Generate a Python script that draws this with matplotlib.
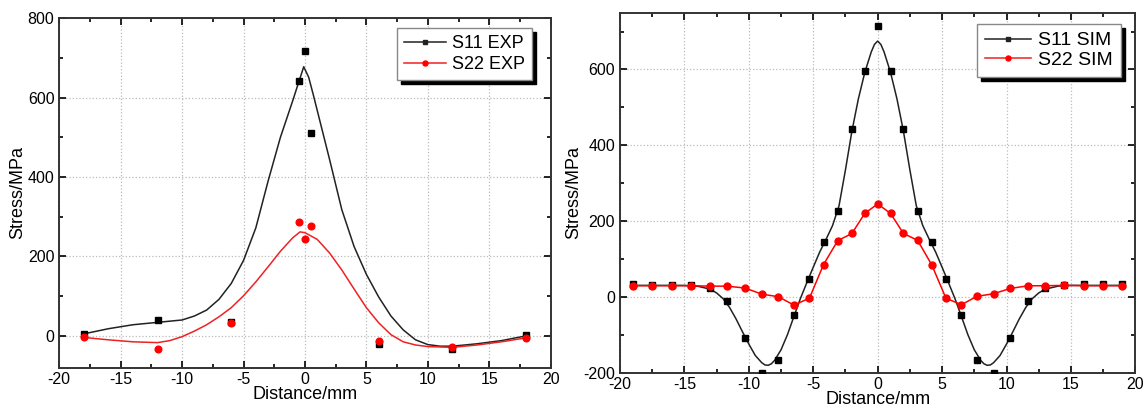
import numpy as np
import matplotlib
matplotlib.use('Agg')
import matplotlib.pyplot as plt
from matplotlib.lines import Line2D
from matplotlib.ticker import MultipleLocator

plt.rcParams['font.family'] = ['Liberation Sans', 'DejaVu Sans']
plt.rcParams['axes.unicode_minus'] = False
plt.rcParams['xtick.direction'] = 'in'
plt.rcParams['ytick.direction'] = 'in'

# ---- left panel: experiment points
exp_x = [-18, -12, -6, -0.5, 0, 0.5, 6, 12, 18]
s11_exp = [5, 40, 35, 642, 717, 511, -21, -32, 2]
s22_exp = [-4, -32, 32, 288, 244, 276, -13, -27, -6]

# fitted curves
fit11_x = [-18, -16, -14, -12, -10, -9, -8, -7, -6, -5, -4, -3, -2, -1, -0.5, -0.1,
           0.3, 0.7, 1, 2, 3, 4, 5, 6, 7, 8, 9, 10, 11, 12, 14, 16, 18]
fit11_y = [5, 18, 28, 34, 40, 50, 65, 92, 132, 190, 272, 390, 500, 592, 640, 678,
           652, 605, 568, 445, 318, 225, 155, 98, 50, 15, -10, -22, -26, -26, -20, -12, 0]
fit22_x = [-18, -16, -14, -12, -11, -10, -9, -8, -7, -6, -5, -4, -3, -2, -1, -0.4,
           0, 1, 2, 3, 4, 5, 6, 7, 8, 9, 10, 12, 14, 16, 18]
fit22_y = [-4, -10, -15, -17, -12, -2, 12, 28, 48, 71, 101, 136, 174, 213, 247, 262,
           260, 243, 209, 166, 118, 71, 33, 3, -15, -23, -27, -29, -23, -15, -5]

# ---- right panel: simulation
sim_x = [-19, -17.5, -16, -14.5, -13, -11.7, -10.3, -9, -7.7, -6.5, -5.3, -4.2, -3.1, -2, -1, 0,
         1, 2, 3.1, 4.2, 5.3, 6.5, 7.7, 9, 10.3, 11.7, 13, 14.5, 16, 17.5, 19]
s11_sim = [34, 32, 32, 30, 24, -11, -110, -200, -168, -48, 47, 145, 226, 443, 597, 715,
           597, 443, 226, 145, 47, -48, -167, -200, -110, -11, 24, 31, 33, 33, 33]
s22_sim = [29, 29, 29, 29, 28, 28, 23, 7, 0, -22, -4, 85, 148, 167, 220, 245,
           220, 167, 149, 84, -4, -21, 1, 8, 22, 29, 29, 30, 29, 29, 29]

simfit_x = [-19, -17, -15, -14, -13, -12.5, -12, -11.5, -11, -10.5, -10, -9.5, -9, -8.75,
            -8.5, -8.25, -8, -7.5, -7, -6.5, -6, -5.5, -5, -4.5, -4, -3.5, -3, -2.5, -2,
            -1.5, -1, -0.5, -0.25, 0, 0.25, 0.5, 1, 1.5, 2, 2.5, 3, 3.5, 4, 4.5, 5, 5.5, 6,
            6.5, 7, 7.5, 8, 8.25, 8.5, 8.75, 9, 9.5, 10, 10.5, 11, 11.5, 12, 12.5, 13, 14,
            15, 17, 19]
simfit_y = [30, 30, 30, 28, 20, 10, -5, -28, -58, -92, -125, -155, -174, -180,
            -181, -177, -168, -140, -100, -52, -5, 37, 78, 118, 152, 188, 240, 335, 437,
            522, 592, 646, 666, 675, 666, 646, 592, 522, 437, 335, 240, 188, 152, 118, 78, 37, -5,
            -52, -100, -140, -168, -177, -181, -180, -174, -155, -125, -92, -58, -28, -5, 10, 20, 28,
            30, 30, 30]

fig = plt.figure(figsize=(11.46, 4.08), dpi=100)
ax1 = fig.add_axes([0.0517, 0.099, 0.4288, 0.856])
ax2 = fig.add_axes([0.541, 0.087, 0.4497, 0.882])

ms = 4.2
ax1.plot(fit11_x, fit11_y, '-', color='#222222', lw=1.1, zorder=3)
ax1.plot(fit22_x, fit22_y, '-', color='#ee2222', lw=1.1, zorder=3)
ax1.plot(exp_x, s11_exp, 's', color='black', ms=ms, zorder=4)
ax1.plot(exp_x, s22_exp, 'o', color='#ff0000', ms=ms + 0.6, zorder=4)
ax1.set_xlim(-20, 20)
ax1.set_ylim(-80, 800)
ax1.yaxis.set_major_locator(MultipleLocator(200))

ax2.plot(simfit_x, simfit_y, '-', color='#222222', lw=1.1, zorder=3)
ax2.plot(sim_x, s11_sim, 's', color='black', ms=ms, zorder=4)
ax2.plot(sim_x, s22_sim, '-o', color='#ff0000', lw=1.1, ms=ms + 0.8, zorder=5)
ax2.set_xlim(-20, 20)
ax2.set_ylim(-200, 750)
ax2.yaxis.set_major_locator(MultipleLocator(200))

for ax in (ax1, ax2):
    ax.xaxis.set_major_locator(MultipleLocator(5))
    ax.xaxis.set_minor_locator(MultipleLocator(2.5))
    ax.yaxis.set_minor_locator(MultipleLocator(100))
    ax.tick_params(which='both', top=True, right=True, labelsize=11.5, width=1.2)
    ax.tick_params(which='major', length=5)
    ax.tick_params(which='minor', length=3)
    ax.grid(which='major', linestyle=':', color='#bbbbbb', linewidth=0.9)
    for s in ax.spines.values():
        s.set_linewidth(1.4)
        s.set_color('#333333')
    ax.set_xlabel('Distance/mm', fontsize=13, labelpad=-1)
    ax.set_ylabel('Stress/MPa', fontsize=13, labelpad=1)


def handles(lab1, lab2):
    return [Line2D([], [], color='#222222', lw=1.1, marker='s', ms=3.2, label=lab1),
            Line2D([], [], color='#ee2222', lw=1.1, marker='o', ms=3.6, mfc='#ff0000',
                   mec='#ff0000', label=lab2)]


shadow = {'ox': 3, 'oy': -3, 'color': 'black', 'alpha': 1}
leg_style = dict(loc='upper left', bbox_transform=fig.transFigure, frameon=True,
                 fancybox=False, edgecolor='#888888', framealpha=1, shadow=shadow,
                 handletextpad=0.35, borderpad=0.4, borderaxespad=0)
leg1 = ax1.legend(handles=handles('S11 EXP', 'S22 EXP'), bbox_to_anchor=(0.3464, 0.9314),
                  fontsize=13, handlelength=2.3, labelspacing=0.2, **leg_style)
leg2 = ax2.legend(handles=handles('S11 SIM', 'S22 SIM'), bbox_to_anchor=(0.8523, 0.9412),
                  fontsize=14, handlelength=2.4, labelspacing=0.1, **leg_style)
for leg in (leg1, leg2):
    leg.get_frame().set_linewidth(1.0)

fig.savefig('out.png', dpi=100)
